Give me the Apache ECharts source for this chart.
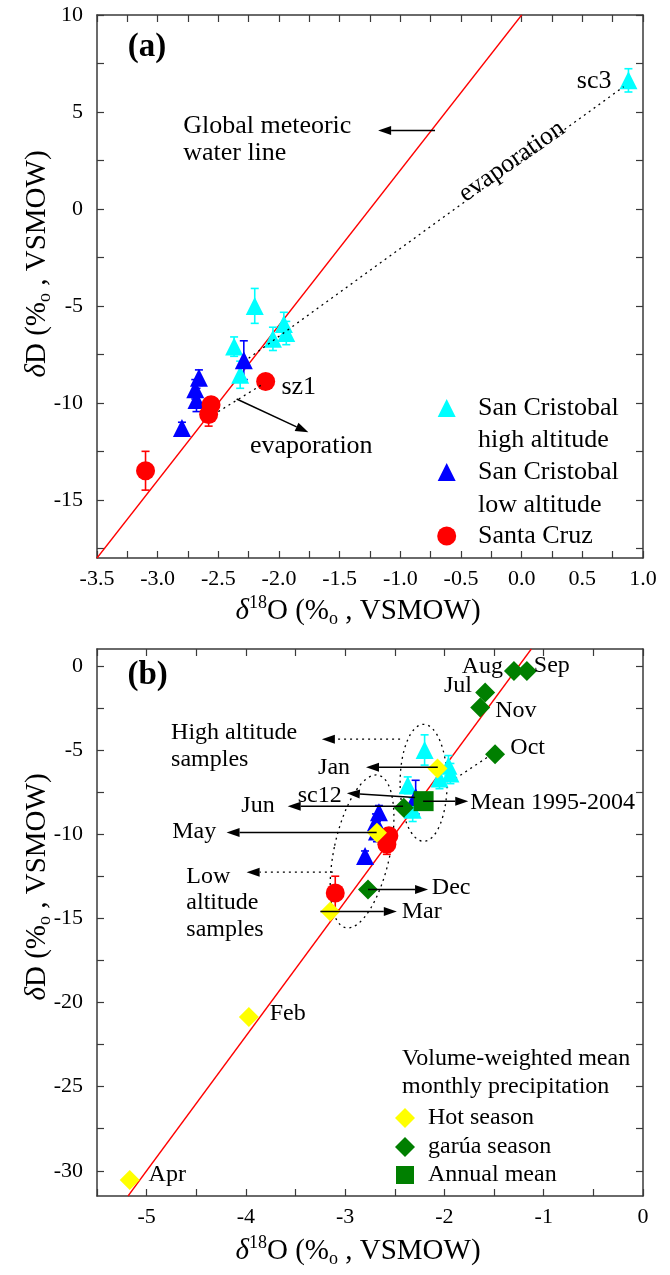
<!DOCTYPE html>
<html><head><meta charset="utf-8">
<script src="https://cdn.jsdelivr.net/npm/echarts@6/dist/echarts.min.js"></script>
<style>html,body{margin:0;padding:0;background:#fff}#c{width:670px;height:1275px}</style>
</head><body><div id="c"></div>
<script>
// ---------------- DATA ----------------
// samples: [δ18O, δD, ±error]
const highAltitude = [[0.88,6.63,0.6],[-2.20,-5.0,0.9],[-1.96,-5.93,0.6],[-1.94,-6.4,0.6],[-2.05,-6.7,0.6],[-2.37,-7.1,0.5],[-2.32,-8.55,0.7]];
const lowAltitude  = [[-2.29,-7.8,1.0],[-2.66,-8.7,0.4],[-2.69,-9.3,0.5],[-2.68,-9.85,0.6],[-2.80,-11.3,0.3]];
const santaCruz    = [[-3.10,-13.5,1.0],[-2.56,-10.1,0.3],[-2.58,-10.6,0.6]];
const santaCruzSz1 = [[-2.11,-8.9,0.35]];
// global meteoric water line end points
const gmwlA = [[-3.5,-18],[0,10]];
const gmwlB = [[-5.1875,-31.5],[-1.125,1]];
// volume-weighted mean monthly precipitation
const hotMonths   = ['Jan','Feb','Mar','Apr','May'];
const hotSeason   = [[-2.07,-6.1],[-3.97,-20.87],[-3.15,-14.6],[-5.17,-30.55],[-2.68,-9.92]];
const garuaMonths = ['Jun','Jul','Aug','Sep','Oct','Nov','Dec'];
const garuaSeason = [[-2.41,-8.43],[-1.59,-1.58],[-1.30,-0.30],[-1.17,-0.30],[-1.49,-5.26],[-1.64,-2.48],[-2.77,-13.29]];
const annualMean  = [[-2.21,-8.04]];
// ticks
const xLabelsA = [-3.5,-3,-2.5,-2,-1.5,-1,-0.5,0,0.5,1];
const xTicksA  = [-3.5,-3.25,-3,-2.75,-2.5,-2.25,-2,-1.75,-1.5,-1.25,-1,-0.75,-0.5,-0.25,0,0.25,0.5,0.75,1];
const yLabelsA = [-15,-10,-5,0,5,10];
const yTicksA  = [-17.5,-15,-12.5,-10,-7.5,-5,-2.5,0,2.5,5,7.5,10];
const xLabelsB = [-5,-4,-3,-2,-1,0];
const xTicksB  = [-5.5,-5,-4.5,-4,-3.5,-3,-2.5,-2,-1.5,-1,-0.5,0];
const yLabelsB = [-30,-25,-20,-15,-10,-5,0];
const yTicksB  = [-30,-27.5,-25,-22.5,-20,-17.5,-15,-12.5,-10,-7.5,-5,-2.5,0];

// ---------------- ANNOTATIONS (data coordinates) ----------------
const textsA = [
  {text:'(a)', x:-3.088, y:8.3, bold:true, size:33, align:'center'},
  {text:'Global meteoric', x:-2.79, y:4.29, size:26},
  {text:'water line', x:-2.79, y:2.9, size:26},
  {text:'sc3', x:0.74, y:6.58, align:'right', size:26},
  {text:'sz1', x:-1.98, y:-9.19, size:26},
  {text:'evaporation', x:-2.24, y:-12.25, size:26},
  {text:'evaporation', x:-0.08, y:2.45, align:'center', rot:0.61, size:26}
];
const arrowsA = [
  {x1:-0.714, y1:4.04, x2:-1.183, y2:4.04, head:true},
  {x1:-2.349, y1:-9.80, x2:-1.758, y2:-11.52, head:true},
  {x1:-2.25, y1:-7.7, x2:0.84, y2:6.3, dash:true},
  {x1:-2.5, y1:-10.45, x2:-2.15, y2:-9.1, dash:true}
];
const textsB = [
  {text:'(b)', x:-4.99, y:-0.55, bold:true, size:33, align:'center'},
  {text:'High altitude', x:-4.754, y:-3.95},
  {text:'samples', x:-4.754, y:-5.55},
  {text:'Jan', x:-3.273, y:-6.03},
  {text:'sc12', x:-3.478, y:-7.74},
  {text:'Jun', x:-4.046, y:-8.33},
  {text:'May', x:-4.743, y:-9.88},
  {text:'Low', x:-4.60, y:-12.5},
  {text:'altitude', x:-4.60, y:-14.08},
  {text:'samples', x:-4.60, y:-15.67},
  {text:'Mean 1995-2004', x:-1.74, y:-8.13},
  {text:'Dec', x:-2.127, y:-13.19},
  {text:'Mar', x:-2.43, y:-14.6},
  {text:'Feb', x:-3.76, y:-20.67},
  {text:'Apr', x:-4.98, y:-30.26},
  {text:'Aug', x:-1.41, y:-0.08, align:'right'},
  {text:'Sep', x:-1.10, y:0.0},
  {text:'Jul', x:-1.723, y:-1.19, align:'right'},
  {text:'Nov', x:-1.488, y:-2.68},
  {text:'Oct', x:-1.336, y:-4.86}
];
const arrowsB = [
  {x1:-2.447, y1:-4.36, x2:-3.235, y2:-4.36, head:true, dash:true},
  {x1:-2.067, y1:-6.03, x2:-2.79, y2:-6.03, head:true},
  {x1:-2.296, y1:-7.82, x2:-2.983, y2:-7.57, head:true},
  {x1:-2.417, y1:-8.35, x2:-3.579, y2:-8.35, head:true},
  {x1:-2.683, y1:-9.9, x2:-4.195, y2:-9.9, head:true},
  {x1:-3.124, y1:-12.26, x2:-3.993, y2:-12.26, head:true, dash:true},
  {x1:-2.215, y1:-8.05, x2:-1.76, y2:-8.05, head:true},
  {x1:-2.77, y1:-13.29, x2:-2.165, y2:-13.29, head:true},
  {x1:-3.25, y1:-14.6, x2:-2.48, y2:-14.6, head:true},
  {x1:-1.572, y1:-5.45, x2:-1.875, y2:-6.64, dash:true}
];
const ellipsesB = [
  {x:-2.21, y:-6.95, rx:23.5, ry:58.5, rot:0},
  {x:-2.83, y:-11.03, rx:28, ry:78, rot:-0.21}
];

// ---------------- CHART ----------------
const SERIF = '"Liberation Serif","Times New Roman",serif';
const FRAME = '#3a3a3a';
const chart = echarts.init(document.getElementById('c'));

function xAx(grid, min, max, labels, ticks, pos, fmt){
  return {type:'value', gridIndex:grid, min, max, position:pos,
    axisLine:{show:true, onZero:false, lineStyle:{color:FRAME, width:1.5}},
    axisTick:{show:true, inside:true, length:7, customValues:ticks, lineStyle:{color:FRAME, width:1.2}},
    axisLabel:{show:pos==='bottom', customValues:labels, formatter:fmt, color:'#000', fontFamily:SERIF, fontSize:22, margin:10},
    splitLine:{show:false}};
}
function yAx(grid, min, max, labels, ticks, pos){
  return {type:'value', gridIndex:grid, min, max, position:pos,
    axisLine:{show:true, onZero:false, lineStyle:{color:FRAME, width:1.5}},
    axisTick:{show:true, inside:true, length:7, customValues:ticks, lineStyle:{color:FRAME, width:1.2}},
    axisLabel:{show:pos==='left', customValues:labels, formatter:v=>String(v), color:'#000', fontFamily:SERIF, fontSize:22, margin:14},
    splitLine:{show:false}};
}
function errSeries(pts, color, xi, yi){
  return {type:'custom', xAxisIndex:xi, yAxisIndex:yi, clip:true, silent:true, z:3,
    data: pts.map(p=>[p[0], p[1]-p[2], p[1]+p[2]]),
    renderItem:(params, api)=>{
      const a=api.coord([api.value(0),api.value(1)]), b=api.coord([api.value(0),api.value(2)]);
      const s={stroke:color, lineWidth:1.6};
      return {type:'group', children:[
        {type:'line', shape:{x1:a[0],y1:a[1],x2:b[0],y2:b[1]}, style:s},
        {type:'line', shape:{x1:a[0]-4,y1:a[1],x2:a[0]+4,y2:a[1]}, style:s},
        {type:'line', shape:{x1:b[0]-4,y1:b[1],x2:b[0]+4,y2:b[1]}, style:s}]};
    }};
}
function scat(pts, symbol, size, color, xi, yi, z){
  return {type:'scatter', xAxisIndex:xi, yAxisIndex:yi, data:pts.map(p=>[p[0],p[1]]), symbol, symbolSize:size,
    itemStyle:{color, opacity:1}, z, clip:true, silent:true};
}
function textSeries(items, xi, yi){
  return {type:'custom', xAxisIndex:xi, yAxisIndex:yi, silent:true, z:10, clip:false,
    data: items.map(t=>[t.x,t.y]),
    renderItem:(params, api)=>{
      const t=items[params.dataIndex]; const p=api.coord([api.value(0),api.value(1)]);
      return {type:'text', x:p[0], y:p[1], rotation:t.rot||0,
        style:{text:t.text, fill:'#000', font:(t.bold?'bold ':'')+(t.size||24)+'px '+SERIF, align:t.align||'left', verticalAlign:'middle'}};
    }};
}
function arrowSeries(items, xi, yi){
  return {type:'custom', xAxisIndex:xi, yAxisIndex:yi, silent:true, z:9, clip:false,
    data: items.map(a=>[a.x1,a.y1,a.x2,a.y2]),
    renderItem:(params, api)=>{
      const a=items[params.dataIndex];
      const p1=api.coord([api.value(0),api.value(1)]), p2=api.coord([api.value(2),api.value(3)]);
      const dx=p2[0]-p1[0], dy=p2[1]-p1[1], L=Math.hypot(dx,dy), ux=dx/L, uy=dy/L;
      const hl=a.head?13:0, hw=4.5;
      const ex=p2[0]-ux*hl, ey=p2[1]-uy*hl;
      const ch=[{type:'line', shape:{x1:p1[0],y1:p1[1],x2:ex,y2:ey},
        style:{stroke:'#000', lineWidth:a.dash?1.3:1.5, lineDash:a.dash?[2,4]:null}}];
      if(a.head) ch.push({type:'polygon', shape:{points:[[p2[0],p2[1]],[ex-uy*hw,ey+ux*hw],[ex+uy*hw,ey-ux*hw]]}, style:{fill:'#000'}});
      return {type:'group', children:ch};
    }};
}
function ellipseSeries(items, xi, yi){
  return {type:'custom', xAxisIndex:xi, yAxisIndex:yi, silent:true, z:2, clip:false,
    data: items.map(e=>[e.x,e.y]),
    renderItem:(params, api)=>{
      const e=items[params.dataIndex]; const p=api.coord([api.value(0),api.value(1)]);
      return {type:'ellipse', x:p[0], y:p[1], rotation:e.rot, shape:{cx:0,cy:0,rx:e.rx,ry:e.ry},
        style:{fill:'none', stroke:'#000', lineWidth:1.3, lineDash:[2,4]}};
    }};
}

const CYAN='#00ffff', BLUE='#0000ff', RED='#ff0000', YELLOW='#ffff00', GREEN='#007f00';
const series = [
  // panel (a)
  {type:'line', xAxisIndex:0, yAxisIndex:0, data:gmwlA, symbol:'none', lineStyle:{color:RED, width:1.3}, z:1, silent:true},
  arrowSeries(arrowsA,0,0),
  errSeries(highAltitude,CYAN,0,0), errSeries(lowAltitude,BLUE,0,0),
  errSeries(santaCruz,RED,0,0), errSeries(santaCruzSz1,RED,0,0),
  scat(highAltitude,'triangle',18,CYAN,0,0,4), scat(lowAltitude,'triangle',18,BLUE,0,0,4),
  scat(santaCruz,'circle',19,RED,0,0,5), scat(santaCruzSz1,'circle',19,RED,0,0,5),
  textSeries(textsA,0,0),
  // panel (b)
  {type:'line', xAxisIndex:2, yAxisIndex:2, data:gmwlB, symbol:'none', lineStyle:{color:RED, width:1.3}, z:1, silent:true},
  ellipseSeries(ellipsesB,2,2),
  arrowSeries(arrowsB,2,2),
  errSeries(highAltitude,CYAN,2,2), errSeries(lowAltitude,BLUE,2,2), errSeries(santaCruz,RED,2,2),
  scat(highAltitude,'triangle',18,CYAN,2,2,4), scat(lowAltitude,'triangle',18,BLUE,2,2,4),
  scat(santaCruz,'circle',19,RED,2,2,5),
  scat(hotSeason,'diamond',20,YELLOW,2,2,6), scat(garuaSeason,'diamond',20,GREEN,2,2,6),
  scat(annualMean,'rect',20,GREEN,2,2,7),
  textSeries(textsB,2,2)
];

function tri(cx,cy,s,color){ return {type:'polygon', shape:{points:[[cx,cy-s/2],[cx+s/2,cy+s/2],[cx-s/2,cy+s/2]]}, style:{fill:color}}; }
function txt(x,y,t,size){ return {type:'text', x, y, style:{text:t, fill:'#000', font:(size||24)+'px '+SERIF, align:'left', verticalAlign:'middle'}}; }
const richTitle = {
  d:{fontFamily:SERIF, fontSize:29, fontStyle:'italic', lineHeight:34, verticalAlign:'middle'},
  n:{fontFamily:SERIF, fontSize:29, lineHeight:34, verticalAlign:'middle'},
  sup:{fontFamily:SERIF, fontSize:18, lineHeight:18, verticalAlign:'top'},
  sub:{fontFamily:SERIF, fontSize:18, lineHeight:18, verticalAlign:'bottom'}
};
function title(x,y,t,rot){ return {type:'text', x, y, rotation:rot||0, z:20, style:{text:t, rich:richTitle, fill:'#000', align:'center', verticalAlign:'middle'}}; }
const X_TITLE = '{d|δ}{sup|18}{n|O (%}{sub|o}{n| , VSMOW)}';
const Y_TITLE = '{d|δ}{n|D (%}{sub|o}{n| , VSMOW)}';

const graphic = [
  title(358,611,X_TITLE), title(358,1251,X_TITLE),
  title(37,264,Y_TITLE,Math.PI/2), title(37,887,Y_TITLE,Math.PI/2),
  // legend (a)
  tri(446.7,408,18,CYAN), txt(478,408,'San Cristobal',26), txt(478,440,'high altitude',26),
  tri(446.7,472,18,BLUE), txt(478,472,'San Cristobal',26), txt(478,505,'low altitude',26),
  {type:'circle', shape:{cx:446.7,cy:536,r:9.5}, style:{fill:RED}}, txt(478,536,'Santa Cruz',26),
  // legend (b)
  txt(402,1059,'Volume-weighted mean'), txt(402,1087,'monthly precipitation'),
  {type:'polygon', shape:{points:[[405,1108],[415,1118],[405,1128],[395,1118]]}, style:{fill:YELLOW}}, txt(428,1118,'Hot season'),
  {type:'polygon', shape:{points:[[405,1137],[415,1147],[405,1157],[395,1147]]}, style:{fill:GREEN}}, txt(428,1147,'garúa season'),
  {type:'rect', shape:{x:396,y:1166,width:18,height:18}, style:{fill:GREEN}}, txt(428,1175,'Annual mean')
];

chart.setOption({
  animation:false, backgroundColor:'#fff',
  grid:[{left:97, top:15, width:546, height:543},{left:97, top:649, width:546, height:547}],
  xAxis:[xAx(0,-3.5,1,xLabelsA,xTicksA,'bottom',v=>v.toFixed(1)), xAx(0,-3.5,1,xLabelsA,xTicksA,'top'),
         xAx(1,-5.5,0,xLabelsB,xTicksB,'bottom',v=>String(v)), xAx(1,-5.5,0,xLabelsB,xTicksB,'top')],
  yAxis:[yAx(0,-18,10,yLabelsA,yTicksA,'left'), yAx(0,-18,10,yLabelsA,yTicksA,'right'),
         yAx(1,-31.5,1,yLabelsB,yTicksB,'left'), yAx(1,-31.5,1,yLabelsB,yTicksB,'right')],
  series, graphic
});
</script></body></html>
